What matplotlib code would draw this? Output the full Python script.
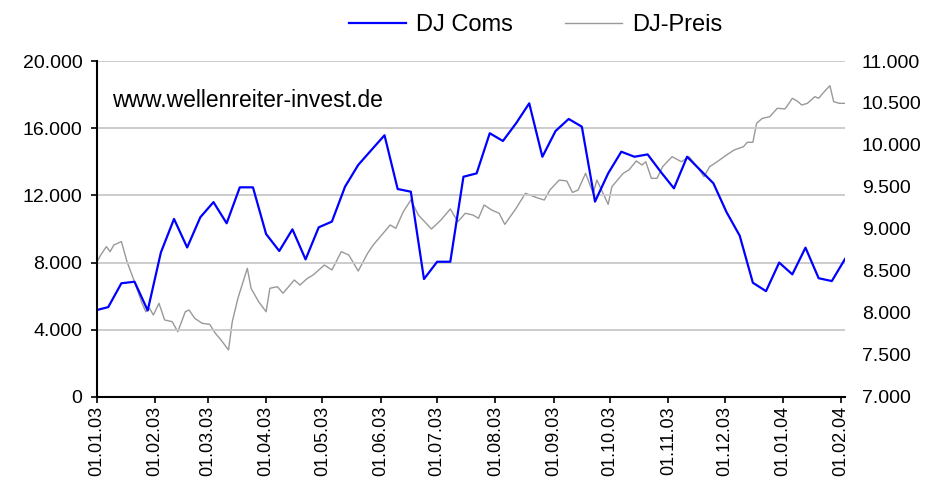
import datetime as dt
import matplotlib
matplotlib.use("Agg")
import matplotlib.pyplot as plt
import matplotlib.dates as mdates
from matplotlib.ticker import FuncFormatter, MultipleLocator

plt.rcParams["font.family"] = ["Liberation Sans", "DejaVu Sans"]

# DJ Coms, weekly values (left axis), first point 31.12.2002
coms_start = "2002-12-31"
coms_values = [
    5150, 5350, 6770, 6860, 5150, 8600, 10600, 8900, 10700, 11600,
    10340, 12480, 12480, 9700, 8690, 9980, 8190, 10100, 10440, 12520,
    13810, 14700, 15580, 12380, 12220, 7020, 8050, 8050, 13110, 13310,
    15700, 15240, 16290, 17480, 14300, 15830, 16550, 16090, 11630, 13310,
    14600, 14300, 14440, 13400, 12420, 14300, 13510, 12720, 11000, 9600,
    6800, 6300, 8000, 7300, 8890, 7070, 6900, 8210,
]

# DJ-Preis (right axis): days after 01.01.2003 and index level
preis_days = [
    0, 2, 5, 7, 9, 13, 16, 19, 24, 26, 28, 30, 33, 36, 40, 43, 47, 49, 52, 56,
    60, 63, 66, 70, 72, 75, 80, 82, 86, 90, 92, 96, 99, 105, 108, 112, 115, 121,
    125, 130, 134, 139, 144, 147, 153, 156, 159, 163, 167, 171, 178, 183, 188,
    192, 196, 200, 203, 206, 210, 214, 217, 223, 228, 234, 238, 241, 246, 250,
    253, 256, 260, 264, 266, 272, 274, 280, 283, 287, 290, 292, 295, 298, 301,
    306, 311, 315, 320, 323, 326, 330, 335, 339, 344, 346, 349, 351, 354, 358,
    362, 366, 367, 370, 373, 375, 378, 382, 384, 387, 390, 392, 395, 398,
]
preis_values = [
    8611, 8690, 8790, 8730, 8810, 8850, 8610, 8430, 8115, 8015, 8055, 7976,
    8115, 7917, 7897, 7777, 8015, 8036, 7937, 7877, 7865, 7758, 7679, 7560,
    7897, 8175, 8532, 8294, 8135, 8015, 8294, 8313, 8235, 8393, 8333, 8413,
    8452, 8571, 8512, 8730, 8690, 8500, 8710, 8810, 8968, 9048, 9008, 9206,
    9345, 9167, 9000, 9107, 9238, 9087, 9187, 9167, 9127, 9286, 9226, 9187,
    9055, 9246, 9425, 9373, 9345, 9464, 9583, 9571, 9435, 9464, 9663, 9425,
    9583, 9294, 9504, 9663, 9702, 9810, 9762, 9801, 9603, 9603, 9742, 9861,
    9801, 9861, 9722, 9623, 9742, 9801, 9881, 9940, 9980, 10032, 10032, 10258,
    10317, 10337, 10437, 10429, 10456, 10556, 10516, 10476, 10496, 10575,
    10556, 10635, 10706, 10516, 10496, 10496,
]

month_ticks = [dt.date(2003, m, 1) for m in range(1, 13)] + [dt.date(2004, 1, 1), dt.date(2004, 2, 1)]

base = dt.date(2003, 1, 1)
c0 = dt.date.fromisoformat(coms_start)
coms_dates = [c0 + dt.timedelta(days=7 * i) for i in range(len(coms_values))]
preis_dates = [base + dt.timedelta(days=d) for d in preis_days]


def dotted(v, pos=None):
    return f"{v:,.0f}".replace(",", ".")


fig = plt.figure(figsize=(9.27, 4.88), dpi=100)
ax = fig.add_axes([0.1046, 0.1865, 0.8069, 0.6885])
ax2 = ax.twinx()
ax.set_zorder(ax2.get_zorder() + 1)
ax.patch.set_visible(False)

l2, = ax2.plot(preis_dates, preis_values, color="#999999", lw=1.0, label="DJ-Preis")
l1, = ax.plot(coms_dates, coms_values, color="#0000ff", lw=1.6, label="DJ Coms")

ax.set_xlim(base, base + dt.timedelta(days=398.6))
ax.set_ylim(0, 20000)
ax2.set_ylim(7000, 11000)

ax.yaxis.set_major_locator(MultipleLocator(4000))
ax.yaxis.set_major_formatter(FuncFormatter(dotted))
ax2.yaxis.set_major_locator(MultipleLocator(500))
ax2.yaxis.set_major_formatter(FuncFormatter(dotted))

ax.set_xticks(month_ticks)
ax.xaxis.set_major_formatter(mdates.DateFormatter("%d.%m.%y"))
for lab in ax.get_xticklabels():
    lab.set_rotation(90)

ax.grid(axis="y", color="#c8c8c8", lw=1.3)
ax.set_axisbelow(True)

for a in (ax, ax2):
    a.spines["top"].set_visible(False)
    a.spines["right"].set_visible(False)
ax2.spines["left"].set_visible(False)
ax2.spines["bottom"].set_visible(False)
ax.spines["left"].set_linewidth(1.5)
ax.spines["bottom"].set_linewidth(1.5)

ax.tick_params(axis="y", direction="out", length=4.5, width=1.2, pad=6, labelsize=14, colors="black")
ax.tick_params(axis="x", direction="out", length=4.5, width=1.2, pad=2, labelsize=13, colors="black")
ax2.tick_params(axis="y", length=0, pad=12, labelsize=14)

ax.text(0.02, 0.882, "www.wellenreiter-invest.de", transform=ax.transAxes,
        fontsize=16.5, va="center", ha="left")

fig.legend([l1, l2], ["DJ Coms", "DJ-Preis"], loc="center", bbox_to_anchor=(0.578, 0.949),
           ncol=2, frameon=False, fontsize=17, handlelength=2.4, columnspacing=2.2,
           handletextpad=0.45)

fig.savefig("out.png", dpi=100)
